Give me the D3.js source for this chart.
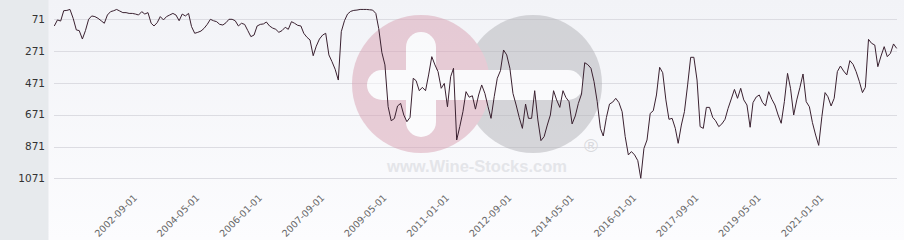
<!DOCTYPE html>
<html><head><meta charset="utf-8">
<script src="https://cdn.jsdelivr.net/npm/d3@7"></script>
<style>html,body{margin:0;padding:0;background:#fff;}svg{display:block;font-family:"DejaVu Sans",sans-serif;}</style>
</head><body><svg id="c" width="904" height="240"></svg>
<script>
const startMonth = "2000-07-01";
const ranks = [
113,75,82,17,15,9,65,138,142,195,142,71,50,54,65,80,96,44,23,17,
9,19,29,29,34,34,38,44,23,38,29,96,113,92,54,75,54,44,34,44,
80,38,50,34,117,159,
153,145,128,103,71,80,86,103,107,92,71,71,80,113,96,103,142,180,170,113,
103,100,88,113,126,134,153,142,121,134,86,96,109,113,159,184,201,300,240,195,
170,159,295,337,385,
453,149,80,38,21,15,13,9,9,9,11,13,34,128,280,358,620,709,695,616,
600,673,715,688,442,457,520,499,520,421,306,358,400,505,474,621,432,379,830,746,
652,526,561,552,636,
547,484,537,621,694,558,442,394,264,295,379,537,610,688,757,604,694,694,520,704,
834,809,736,673,520,578,625,520,562,589,729,679,600,541,344,356,379,463,589,757,
805,688,604,592,568,
595,652,809,924,903,924,960,1071,883,830,663,646,547,373,407,578,700,694,757,851,
736,652,484,310,310,453,746,757,625,625,688,709,746,729,700,631,572,512,568,505,
578,610,750,595,560,
547,593,616,526,574,610,673,725,589,411,505,673,578,499,415,589,621,721,799,864,
683,532,558,616,568,400,365,396,421,331,354,400,461,532,499,197,222,233,369,302,
243,306,285,226,254
];
const yTicks = [71,271,471,671,871,1071];
const xTickLabels = ["2002-09-01","2004-05-01","2006-01-01","2007-09-01","2009-05-01","2011-01-01","2012-09-01","2014-05-01","2016-01-01","2017-09-01","2019-05-01","2021-01-01"];

const parse = d3.utcParse("%Y-%m-%d");
const t0 = parse(startMonth);
const data = ranks.map((v,i)=>({date:d3.utcMonth.offset(t0,i), v}));

const svg = d3.select("#c");
const W=904,H=240;
const defs = svg.append("defs");
const g1 = defs.append("linearGradient").attr("id","bg").attr("x1",0).attr("y1",0).attr("x2",0).attr("y2",1);
g1.append("stop").attr("offset","0%").attr("stop-color","#f2f3f7");
g1.append("stop").attr("offset","100%").attr("stop-color","#fcfcfe");
svg.append("rect").attr("x",0).attr("y",0).attr("width",W).attr("height",H).attr("fill","url(#bg)");
svg.append("rect").attr("x",0).attr("y",0).attr("width",48.5).attr("height",H).attr("fill","#e7eaed");

const x = d3.scaleUtc().domain([data[0].date, data[data.length-1].date]).range([54.3, 896.7]);
const y = d3.scaleLinear().domain([71,1071]).range([19.3,178.3]);

// grid
svg.append("g").selectAll("line").data(yTicks).join("line")
  .attr("x1",54).attr("x2",897)
  .attr("y1",d=>Math.round(y(d))+0.5).attr("y2",d=>Math.round(y(d))+0.5)
  .attr("stroke","#dcdce2").attr("stroke-width",1);

// watermark
const wm = svg.append("g").attr("opacity",0.5);
wm.append("circle").attr("cx",533).attr("cy",84).attr("r",69).attr("fill","#b3b3b8");
wm.append("circle").attr("cx",421).attr("cy",84).attr("r",69).attr("fill","#d9a2b3");
wm.append("rect").attr("x",406).attr("y",32).attr("width",30).attr("height",105).attr("rx",15).attr("fill","#fff");
wm.append("rect").attr("x",367).attr("y",70).attr("width",216).attr("height",30).attr("rx",15).attr("fill","#fff");
svg.append("text").attr("x",477).attr("y",172).attr("text-anchor","middle")
  .attr("font-family","'Liberation Sans',Arial,sans-serif").attr("font-weight","bold").attr("font-size",16.5)
  .attr("fill","#e4e5e9").text("www.Wine-Stocks.com");
svg.append("text").attr("x",591).attr("y",152).attr("text-anchor","middle")
  .attr("font-family","'Liberation Sans',Arial,sans-serif").attr("font-size",19)
  .attr("fill","#d9d9dd").text("®");

// y labels
svg.append("g").selectAll("text").data(yTicks).join("text")
  .attr("x",45).attr("y",d=>y(d)).attr("dy","0.35em").attr("text-anchor","end")
  .attr("font-size",10.5).attr("fill","#333").text(d=>d);

// x labels
svg.append("g").selectAll("text").data(xTickLabels).join("text")
  .attr("transform",d=>`translate(${x(parse(d))},${196}) rotate(-45)`)
  .attr("text-anchor","end").attr("dy","0.35em")
  .attr("font-size",9.5).attr("fill","#666").text(d=>d);

// line
const line = d3.line().x(d=>x(d.date)).y(d=>y(d.v));
svg.append("path").datum(data).attr("d",line).attr("fill","none")
  .attr("stroke","#3a2130").attr("stroke-width",1).attr("stroke-linejoin","round");
</script></body></html>
